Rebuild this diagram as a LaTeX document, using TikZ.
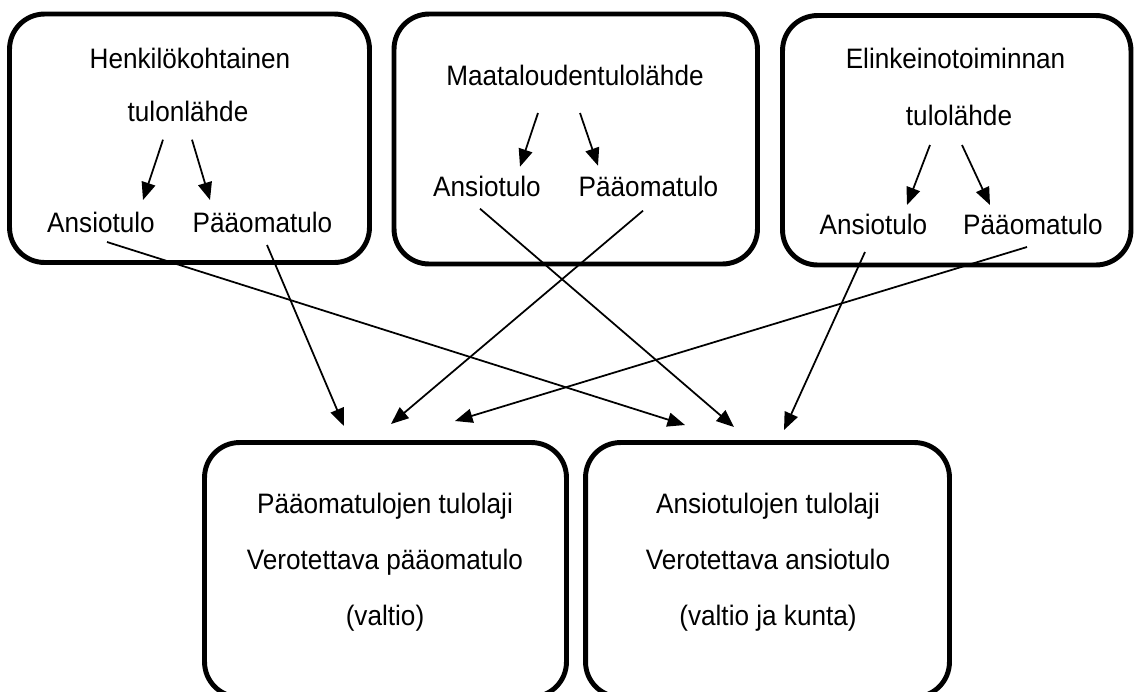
\documentclass[tikz,border=0pt]{standalone}
\usepackage{fontspec}
\setmainfont{Liberation Sans}[FakeStretch=0.93]
\usetikzlibrary{calc, arrows.meta}

\begin{document}
\begin{tikzpicture}[x=0.02cm, y=-0.02cm,
  srcbox/.style={draw, line width=2.8pt, rounded corners=0.7cm, inner sep=0pt},
  lbl/.style={font=\fontsize{16}{18}\selectfont, anchor=base, inner sep=1pt},
  conn/.style={line width=1pt, -{Triangle[length=10pt, width=8pt]}}]
  \useasboundingbox (0,0) rectangle (1137,691);

  % tulolähteet
  \node[srcbox, minimum width=7.2cm, minimum height=4.97cm] (hbox) at (189.5,138.25) {};
  \node[srcbox, minimum width=7.27cm, minimum height=5.0cm] (mbox) at (575.75,139) {};
  \node[srcbox, minimum width=6.97cm, minimum height=4.99cm] (ebox) at (956.75,140.25) {};
  % tulolajit
  \node[srcbox, minimum width=7.24cm, minimum height=5.09cm] (pbox) at (385.5,569.75) {};
  \node[srcbox, minimum width=7.28cm, minimum height=5.09cm] (abox) at (767.5,569.75) {};

  \node[lbl] (ht1) at (190,68.3) {Henkilökohtainen};
  \node[lbl] (ht2) at (188,121.7) {tulonlähde};
  \node[lbl] (ha) at (101,232) {Ansiotulo};
  \node[lbl] (hp) at (262.5,232) {Pääomatulo};

  \node[lbl] (mt) at (575,85) {Maataloudentulolähde};
  \node[lbl] (ma) at (487,196.7) {Ansiotulo};
  \node[lbl] (mp) at (648.5,196.7) {Pääomatulo};

  \node[lbl] (et1) at (955.5,68.3) {Elinkeinotoiminnan};
  \node[lbl] (et2) at (959,125) {tulolähde};
  \node[lbl] (ea) at (873.5,234) {Ansiotulo};
  \node[lbl] (ep) at (1033,234) {Pääomatulo};

  \node[lbl] (pt1) at (385,513) {Pääomatulojen tulolaji};
  \node[lbl] (pt2) at (385,569) {Verotettava pääomatulo};
  \node[lbl] (pt3) at (385,625) {(valtio)};
  \node[lbl] (at1) at (768,513) {Ansiotulojen tulolaji};
  \node[lbl] (at2) at (768,569) {Verotettava ansiotulo};
  \node[lbl] (at3) at (768,625) {(valtio ja kunta)};

  \draw[conn] ($(ht2.base)+(-25,18)$) -- ($(ha.base)+(42,-32)$);
  \draw[conn] ($(ht2.base)+(4,18)$) -- ($(hp.base)+(-52.5,-32)$);
  \draw[conn] ($(mt.base)+(-37,28)$) -- ($(ma.base)+(33,-30)$);
  \draw[conn] ($(mt.base)+(5,28)$) -- ($(mp.base)+(-50.5,-31)$);
  \draw[conn] ($(et2.base)+(-29,20)$) -- ($(ea.base)+(33.5,-29)$);
  \draw[conn] ($(et2.base)+(3,20)$) -- ($(ep.base)+(-43,-29)$);

  \coordinate (pin1) at (344,426);
  \coordinate (pin2) at (391,424);
  \coordinate (pin3) at (455,421);
  \coordinate (ain1) at (685,425);
  \coordinate (ain2) at (734,427);
  \coordinate (ain3) at (784,430);

  \foreach \s/\dx/\dy/\t in {ha/6/10/ain1, hp/4.5/13/pin1, ma/-7/12/ain2,
                             mp/-5.5/14/pin2, ea/-8.5/18/ain3, ep/-6/13/pin3}
    \draw[conn] ($(\s.base)+(\dx,\dy)$) -- (\t);
\end{tikzpicture}
\end{document}
